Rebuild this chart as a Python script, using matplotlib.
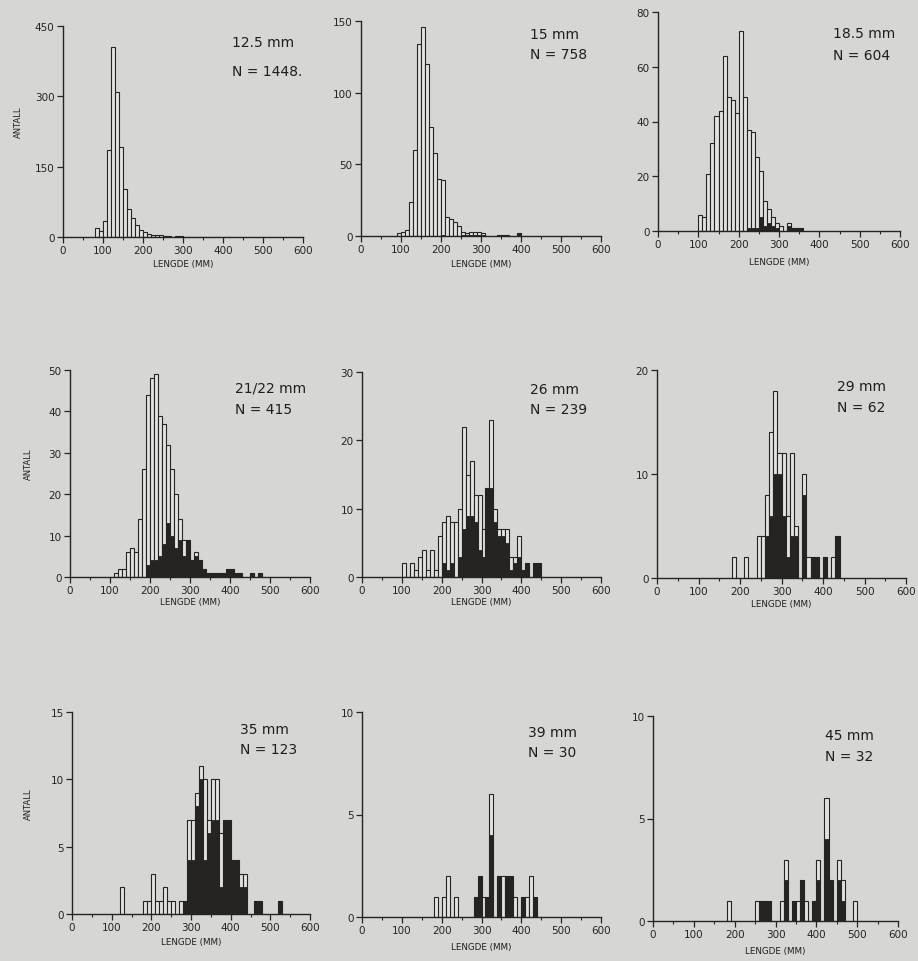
import numpy as np
import matplotlib
matplotlib.use("Agg")
import matplotlib.pyplot as plt
from matplotlib.ticker import MultipleLocator

# ---------------- data (10 mm length classes) ----------------
titles = ["12.5 mm", "15 mm", "18.5 mm", "21/22 mm", "26 mm", "29 mm", "35 mm", "39 mm", "45 mm"]
n_labels = ["N = 1448.", "N = 758", "N = 604", "N = 415", "N = 239", "N = 62", "N = 123", "N = 30", "N = 32"]
y_max = [450, 150, 80, 50, 30, 20, 15, 10, 10]
y_step = [150, 50, 20, 10, 10, 10, 5, 5, 5]

# panel 1 : 12.5 mm, classes from 80 mm
p1_start = 80
p1_total = [19, 13, 34, 185, 405, 309, 193, 103, 60, 41, 26, 14, 10, 6, 5, 4, 4,
            2, 2, 1, 2, 2, 1, 1, 1, 0, 1, 1, 1, 0, 1, 0, 1, 1]
p1_black = [0, 0, 0, 0, 0, 0, 0, 0, 0, 0, 0, 0, 1, 1, 1, 1, 1,
            2, 2, 1, 2, 2, 1, 1, 1, 0, 1, 1, 1, 0, 1, 0, 1, 1]

# panel 2 : 15 mm, classes from 90 mm
p2_start = 90
p2_total = [2, 3, 4, 24, 60, 134, 146, 120, 76, 58, 40, 39, 13, 12, 10, 7, 3, 2, 3, 3, 3, 2,
            0, 0, 0, 1, 1, 1, 0, 0, 2]
p2_black = [0, 0, 0, 0, 0, 0, 0, 0, 0, 0, 0, 1, 0, 0, 0, 0, 1, 1, 1, 1, 1, 1,
            0, 0, 0, 1, 1, 1, 0, 0, 2]

# panel 3 : 18.5 mm, classes from 100 mm
p3_start = 100
p3_total = [6, 5, 21, 32, 42, 44, 64, 49, 48, 43, 73, 49, 37, 36, 27, 22, 11, 8, 5, 3, 2, 0, 3, 1, 1, 1]
p3_black = [0, 0, 0, 0, 0, 0, 0, 0, 0, 0, 0, 0, 1, 1, 1, 5, 2, 3, 2, 1, 0, 0, 2, 1, 1, 1]

# panel 4 : 21/22 mm, classes from 110 mm
p4_start = 110
p4_total = [1, 2, 2, 6, 7, 6, 14, 26, 44, 48, 49, 39, 37, 32, 26, 20, 14, 9, 9, 4, 6, 4, 2,
            1, 1, 1, 1, 1, 2, 2, 1, 1, 0, 0, 1, 0, 1]
p4_black = [0, 0, 0, 0, 0, 0, 0, 0, 3, 4, 4, 5, 8, 13, 10, 7, 9, 5, 9, 4, 5, 4, 2,
            1, 1, 1, 1, 1, 2, 2, 1, 1, 0, 0, 1, 0, 1]

# panel 5 : 26 mm, classes from 100 mm
p5_start = 100
p5_total = [2, 0, 2, 1, 3, 4, 1, 4, 1, 6, 8, 9, 8, 8, 10, 22, 15, 17, 12, 12, 7, 13, 23, 10,
            7, 7, 7, 3, 3, 6, 1, 2, 0, 2, 2]
p5_black = [0, 0, 0, 0, 0, 0, 0, 0, 0, 0, 2, 1, 2, 0, 3, 7, 9, 9, 8, 4, 3, 13, 13, 8,
            6, 6, 5, 1, 2, 3, 1, 2, 0, 2, 2]

# panel 6 : 29 mm, classes from 180 mm
p6_start = 180
p6_total = [2, 0, 0, 2, 0, 0, 4, 4, 8, 14, 18, 12, 12, 6, 12, 5, 0, 10, 2, 2, 2, 0, 2, 0, 2, 4]
p6_black = [0, 0, 0, 0, 0, 0, 0, 0, 4, 6, 10, 10, 6, 2, 4, 4, 0, 8, 0, 2, 2, 0, 2, 0, 0, 4]

# panel 7 : 35 mm, classes from 120 mm
p7_start = 120
p7_total = [2, 0, 0, 0, 0, 0, 1, 1, 3, 1, 1, 2, 1, 1, 0, 1, 1, 7, 7, 9, 11, 10, 7, 10, 10,
            6, 7, 7, 4, 4, 3, 3, 0, 0, 1, 1, 0, 0, 0, 0, 1]
p7_black = [0, 0, 0, 0, 0, 0, 0, 0, 0, 0, 0, 0, 0, 0, 0, 0, 1, 4, 4, 8, 10, 4, 6, 7, 7,
            2, 7, 7, 4, 4, 2, 2, 0, 0, 1, 1, 0, 0, 0, 0, 1]

# panel 8 : 39 mm, classes from 180 mm
p8_start = 180
p8_total = [1, 0, 1, 2, 0, 1, 0, 0, 0, 0, 1, 2, 1, 1, 6, 0, 2, 2, 2, 2, 1, 0, 1, 1, 2, 1]
p8_black = [0, 0, 0, 0, 0, 0, 0, 0, 0, 0, 1, 2, 0, 1, 4, 0, 2, 0, 2, 2, 0, 0, 1, 0, 0, 1]

# panel 9 : 45 mm, classes from 180 mm
p9_start = 180
p9_total = [1, 0, 0, 0, 0, 0, 0, 1, 1, 1, 1, 0, 0, 1, 3, 0, 1, 1, 2, 1, 0, 1, 3, 0, 6, 2,
            0, 3, 2, 0, 0, 1]
p9_black = [0, 0, 0, 0, 0, 0, 0, 0, 1, 1, 1, 0, 0, 0, 2, 0, 1, 0, 2, 0, 0, 1, 2, 0, 4, 2,
            0, 2, 1, 0, 0, 0]

starts = [p1_start, p2_start, p3_start, p4_start, p5_start, p6_start, p7_start, p8_start, p9_start]
totals = [p1_total, p2_total, p3_total, p4_total, p5_total, p6_total, p7_total, p8_total, p9_total]
blacks = [p1_black, p2_black, p3_black, p4_black, p5_black, p6_black, p7_black, p8_black, p9_black]

x_ticks = [0, 100, 200, 300, 400, 500, 600]
x_label = "LENGDE (MM)"
y_label = "ANTALL"

# ---------------- layout (pixel boxes: x0, x600, y_top, y_base) ----------------
W, H = 918, 962
boxes = [
    (63, 303, 27, 238), (361, 601, 22, 237), (658, 900, 13, 232),
    (70, 310, 371, 578), (362, 601, 373, 578), (657, 906, 371, 579),
    (72, 310, 713, 915), (362, 601, 713, 918), (653, 898, 717, 922),
]
text_pos = [(232, 43, 72), (530, 35, 55), (833, 34, 56),
            (235, 389, 410), (530, 390, 410), (837, 387, 408),
            (240, 730, 750), (528, 733, 753), (825, 736, 757)]
xlabel_y = [265, 265, 262, 603, 603, 605, 943, 948, 952]

BG = "#d6d6d3"
LIGHT = "#e2e2df"
DARK = "#262323"

fig = plt.figure(figsize=(W / 100, H / 100), dpi=100, facecolor=BG)

for i in range(9):
    x0, x1, yt, yb = boxes[i]
    ax = fig.add_axes([x0 / W, 1 - yb / H, (x1 - x0) / W, (yb - yt) / H])
    ax.set_facecolor("none")
    tot = np.array(totals[i], dtype=float)
    blk = np.array(blacks[i], dtype=float)
    left = starts[i] + 10 * np.arange(len(tot))
    m = tot > 0
    ax.bar(left[m], tot[m], width=10, align="edge", facecolor=LIGHT,
           edgecolor=DARK, linewidth=0.8, zorder=2)
    mb = blk > 0
    ax.bar(left[mb], blk[mb], width=10, align="edge", facecolor=DARK,
           edgecolor=DARK, linewidth=0.6, zorder=3)

    ax.set_xlim(0, 600)
    ax.set_ylim(0, y_max[i])
    for s in ["top", "right"]:
        ax.spines[s].set_visible(False)
    for s in ["left", "bottom"]:
        ax.spines[s].set_color(DARK)
        ax.spines[s].set_linewidth(1.0)
    ax.set_xticks(x_ticks)
    ax.xaxis.set_minor_locator(MultipleLocator(50))
    ax.yaxis.set_major_locator(MultipleLocator(y_step[i]))
    ax.tick_params(axis="x", which="major", direction="out", length=4, width=0.9,
                   labelsize=7.5, pad=2, colors=DARK)
    ax.tick_params(axis="x", which="minor", direction="out", length=2.5, width=0.8, colors=DARK)
    ax.tick_params(axis="y", which="major", direction="out", length=4, width=0.9,
                   labelsize=7.5, pad=2, colors=DARK)

    tx, ty1, ty2 = text_pos[i]
    fig.text(tx / W, 1 - ty1 / H, titles[i], fontsize=10, color="#1e1e1e", va="center", ha="left")
    fig.text(tx / W, 1 - ty2 / H, n_labels[i], fontsize=10, color="#1e1e1e", va="center", ha="left")
    fig.text(((x0 + x1) / 2) / W, 1 - xlabel_y[i] / H, x_label, fontsize=6.3,
             color="#1e1e1e", va="center", ha="center")
    if i % 3 == 0:
        fig.text(18 / W if i == 0 else 28 / W, 1 - ((yt + yb) / 2 - 10) / H, y_label,
                 fontsize=6, rotation=90, color="#1e1e1e", va="center", ha="center")

fig.savefig("out.png", dpi=100, facecolor=BG)
